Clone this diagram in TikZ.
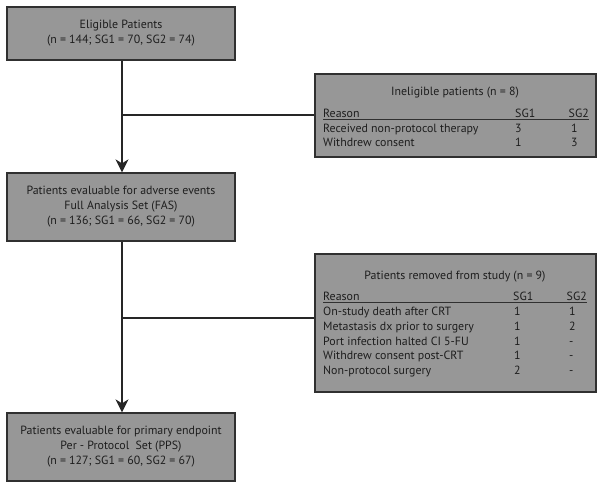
\documentclass[tikz,border=0pt]{standalone}
\usepackage{fontspec}
\setmainfont{PT Sans}
\usetikzlibrary{arrows.meta}
\definecolor{boxfill}{HTML}{979797}
\definecolor{boxline}{HTML}{303030}
\definecolor{txt}{HTML}{1E1E1E}
\tikzset{
  mainbox/.style={draw=boxline, fill=boxfill, line width=1.3pt, minimum width=228pt, inner sep=0pt, align=center, text=txt, font=\fontsize{11.9}{15}\selectfont},
  sidebox/.style={draw=boxline, fill=boxfill, line width=1.3pt, minimum width=281pt, inner sep=0pt},
  conn/.style={line width=1.4pt, draw=black!85},
  arr/.style={conn, -{Stealth[length=13pt, width=13pt, inset=4pt]}},
  tx/.style={text=txt, font=\fontsize{11.9}{14}\selectfont, inner sep=0pt},
  rule/.style={line width=0.8pt, draw=boxline}
}
\begin{document}
\begin{tikzpicture}[x=1pt,y=-1pt]
\useasboundingbox[fill=white] (0,0) rectangle (603,489);
% main boxes
\node[mainbox, minimum height=53pt] (elig) at (121,33.5) {Eligible Patients\\(n = 144; SG1 = 70, SG2 = 74)};
\node[mainbox, minimum height=68pt] (fas) at (121,207) {Patients evaluable for adverse events\\Full Analysis Set (FAS)\\(n = 136; SG1 = 66, SG2 = 70)};
\node[mainbox, minimum height=68pt] (pps) at (121,447) {Patients evaluable for primary endpoint\\Per - Protocol\ \ Set (PPS)\\(n = 127; SG1 = 60, SG2 = 67)};
% side boxes
\node[sidebox, minimum height=83pt] (inel) at (455.5,115.5) {};
\node[sidebox, minimum height=138pt] (rem) at (455.5,323) {};
% ineligible content
\node[tx, anchor=base] (it) at (455,96) {Ineligible patients (n = 8)};
\node[tx, anchor=base west] (ir) at (323,118) {Reason};
\node[tx, anchor=base west] (ig1) at (515,118) {SG1};
\node[tx, anchor=base east] (ig2) at (589,118) {SG2};
\draw[rule] (323,119.5) -- (589,119.5);
\node[tx, anchor=base west] (ia) at (323,132.5) {Received non-protocol therapy};
\node[tx, anchor=base west] (ia1) at (515,132.5) {3};
\node[tx, anchor=base west] (ia2) at (571,132.5) {1};
\node[tx, anchor=base west] (ib) at (323,147) {Withdrew consent};
\node[tx, anchor=base west] (ib1) at (515,147) {1};
\node[tx, anchor=base west] (ib2) at (571,147) {3};
% removed content
\node[tx, anchor=base] (rt) at (455,280) {Patients removed from study (n = 9)};
\node[tx, anchor=base west] (rr) at (323,301) {Reason};
\node[tx, anchor=base west] (rg1) at (513,301) {SG1};
\node[tx, anchor=base east] (rg2) at (587,301) {SG2};
\draw[rule] (323,302.5) -- (587,302.5);
\node[tx, anchor=base west] (ra) at (323,316) {On-study death after CRT};
\node[tx, anchor=base west] (ra1) at (514,316) {1};
\node[tx, anchor=base west] (ra2) at (569,316) {1};
\node[tx, anchor=base west] (rb) at (323,330.5) {Metastasis dx prior to surgery};
\node[tx, anchor=base west] (rb1) at (514,330.5) {1};
\node[tx, anchor=base west] (rb2) at (569,330.5) {2};
\node[tx, anchor=base west] (rc) at (323,345) {Port infection halted CI 5-FU};
\node[tx, anchor=base west] (rc1) at (514,345) {1};
\node[tx, anchor=base west] (rc2) at (569,345) {-};
\node[tx, anchor=base west] (rd) at (323,359.5) {Withdrew consent post-CRT};
\node[tx, anchor=base west] (rd1) at (514,359.5) {1};
\node[tx, anchor=base west] (rd2) at (569,359.5) {-};
\node[tx, anchor=base west] (re) at (323,374) {Non-protocol surgery};
\node[tx, anchor=base west] (re1) at (514,374) {2};
\node[tx, anchor=base west] (re2) at (569,374) {-};
% connectors
\coordinate (j1) at (122,115);
\coordinate (j2) at (122,318);
\draw[arr] (elig.south -| j1) -- (fas.north -| j1);
\draw[arr] (fas.south -| j2) -- (pps.north -| j2);
\draw[conn] (j1) -- (inel.west |- j1);
\draw[conn] (j2) -- (rem.west |- j2);
\end{tikzpicture}
\end{document}
